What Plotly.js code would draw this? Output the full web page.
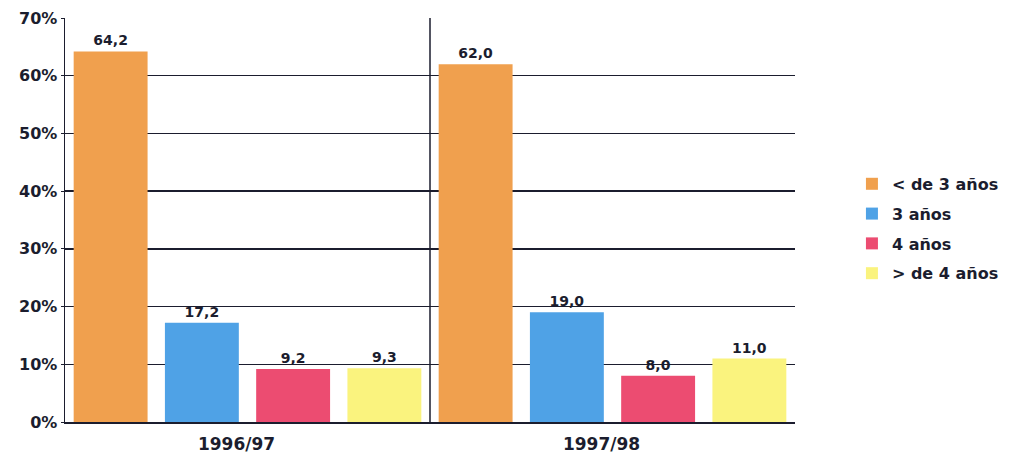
<!DOCTYPE html>
<html>
<head>
<meta charset="utf-8">
<script src="https://cdn.plot.ly/plotly-3.0.1.min.js"></script>
<style>html,body{margin:0;padding:0;background:#fff;}</style>
</head>
<body>
<div id="chart" style="width:1016px;height:460px;"></div>
<script>
const years = ["1996/97", "1997/98"];
const seriesNames = ["< de 3 años", "3 años", "4 años", "> de 4 años"];
const lessThan3 = [64.2, 62.0];
const three = [17.2, 19.0];
const four = [9.2, 8.0];
const moreThan4 = [9.3, 11.0];
const yTicks = [0, 10, 20, 30, 40, 50, 60, 70];
const yTickText = ["0%", "10%", "20%", "30%", "40%", "50%", "60%", "70%"];
const gridTicks = [10, 20, 30, 40, 50, 60];

const colors = ["#F0A04E", "#4FA2E6", "#EC4C71", "#FAF37E"];
const values = [lessThan3, three, four, moreThan4];
const fontFam = "'DejaVu Sans', sans-serif";
const ink = "#1b1d2e";

const traces = values.map((v, i) => ({
  type: "bar",
  name: seriesNames[i],
  legendgroup: "g" + i,
  x: years,
  y: v,
  marker: {color: colors[i], line: {width: 0}},
  texttemplate: "%{y:.1f}",
  textposition: "outside",
  cliponaxis: false,
  textfont: {family: fontFam, size: 14, color: ink, weight: 700},
  hoverinfo: "skip"
}));

const layout = {
  width: 1016, height: 460,
  margin: {l: 65, r: 221, t: 18, b: 38},
  paper_bgcolor: "#ffffff",
  plot_bgcolor: "rgba(0,0,0,0)",
  separators: ",.",
  barmode: "group",
  bargap: 0.0,
  bargroupgap: 0.19,
  showlegend: true,
  legend: {
    x: 1.078, xanchor: "left", y: 0.478, yanchor: "middle",
    font: {family: fontFam, size: 16, color: ink, weight: 700},
    tracegroupgap: 6, itemwidth: 30
  },
  xaxis: {
    type: "category",
    range: [-0.5, 1.5],
    showline: true, linecolor: ink, linewidth: 1.5,
    showgrid: false, zeroline: false, ticks: "",
    tickfont: {family: fontFam, size: 17, color: ink, weight: 700},
    ticklabelshift: -11, ticklabelstandoff: 6
  },
  yaxis: {
    range: [0, 70],
    tickvals: gridTicks,
    showticklabels: false,
    showgrid: true, gridcolor: ink, gridwidth: 1.3,
    zeroline: false, showline: false, ticks: ""
  },
  yaxis2: {
    overlaying: "y",
    side: "left",
    range: [0, 70],
    tickvals: yTicks,
    ticktext: yTickText,
    showgrid: false, zeroline: false,
    showline: true, linecolor: ink, linewidth: 1.5,
    ticks: "outside", ticklen: 3, tickcolor: ink,
    tickfont: {family: fontFam, size: 16, color: ink, weight: 700}
  },
  shapes: [{
    type: "line", xref: "x", yref: "paper",
    x0: 0.5, x1: 0.5, y0: 0, y1: 1,
    line: {color: ink, width: 1.5}, layer: "above"
  }]
};

// invisible helper trace so the left label axis (yaxis2) is drawn
traces.push({type: "scatter", x: [years[0]], y: [0], yaxis: "y2", mode: "markers", marker: {opacity: 0}, showlegend: false, hoverinfo: "skip"});

Plotly.newPlot("chart", traces, layout, {displayModeBar: false, staticPlot: true});
</script>
</body>
</html>
